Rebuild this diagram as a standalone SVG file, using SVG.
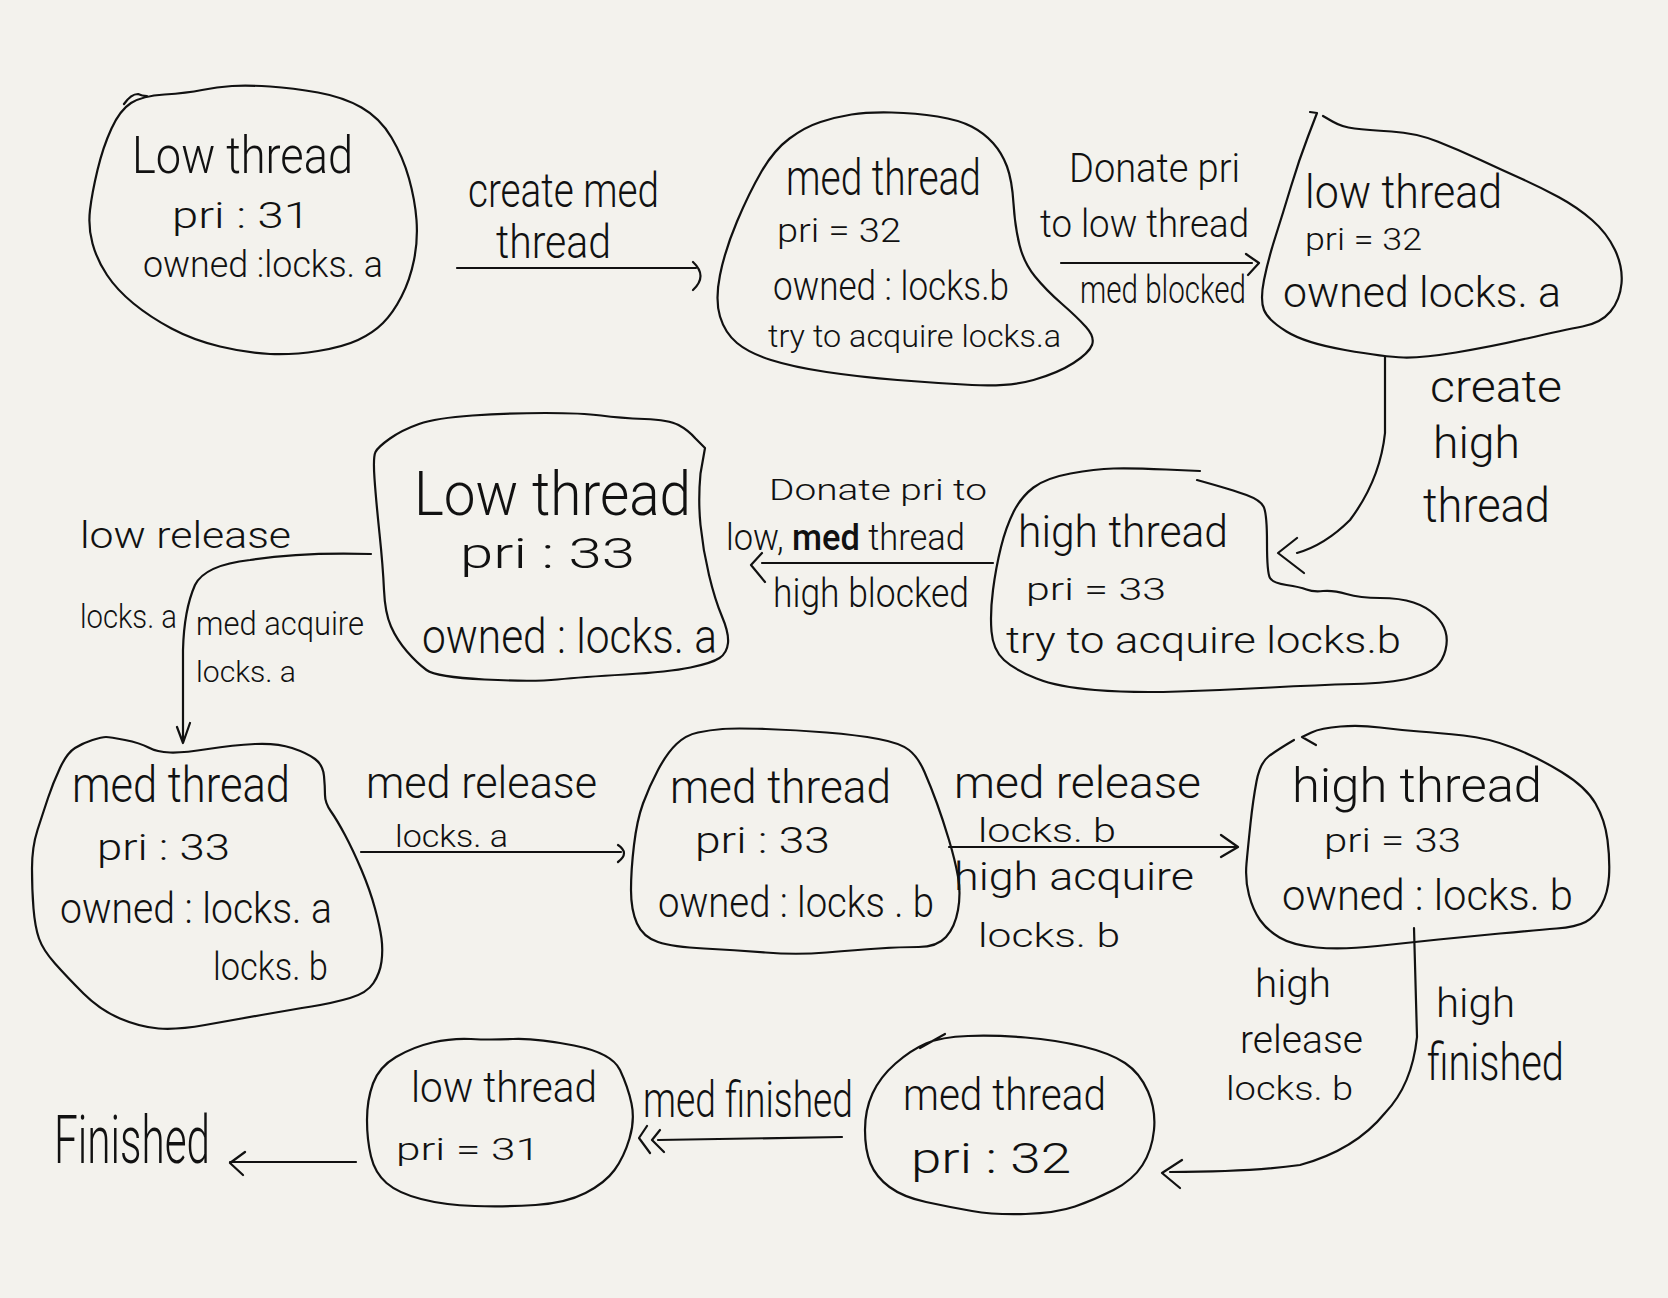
<svg xmlns="http://www.w3.org/2000/svg" width="1668" height="1298" viewBox="0 0 1668 1298">
<style>
.bg{fill:#f3f2ed}
.blob{fill:none;stroke:#111;stroke-width:2.2;stroke-linejoin:round;stroke-linecap:round}
.edge{fill:none;stroke:#111;stroke-width:2.2;stroke-linejoin:round;stroke-linecap:round}
text{font-family:Roboto,"Liberation Sans",sans-serif;font-weight:300;fill:#111}
</style>
<rect class="bg" x="0" y="0" width="1668" height="1298"/>

<g id="connectors">
  <path class="edge" d="M457,268 L696,268 M693,262 Q708,276 693,290"/>
  <path class="edge" d="M1061,263 L1252,263 M1246,254 L1259,263 L1248,275"/>
  <path class="edge" d="M1385,357 L1385,433 Q1380,480 1350,520 Q1325,545 1297,553 M1297,538 L1278,553 L1304,573"/>
  <path class="edge" d="M993,563 L762,563 M762,553 L751,565 L765,582"/>
  <path class="edge" d="M371,554 Q300,552 250,560 Q205,565 195,585 Q184,610 183,650 L183,743 M177,727 L183,743 L190,723"/>
  <path class="edge" d="M361,852 L621,852 M618,845 Q630,853 618,862"/>
  <path class="edge" d="M949,847 L1238,847 M1221,835 L1238,847 L1221,857"/>
  <path class="edge" d="M1414,928 L1417,1037 Q1412,1085 1385,1113 Q1355,1150 1300,1165 Q1250,1172 1170,1172 M1182,1160 L1162,1173 L1180,1188"/>
  <path class="edge" d="M842,1137 L658,1140 M647,1126 L639,1138 L650,1153 M660,1130 L652,1140 L664,1152"/>
  <path class="edge" d="M356,1162 L230,1162 M245,1152 L230,1163 L243,1175"/>
  <text x="468" y="207" font-size="48" textLength="191" lengthAdjust="spacingAndGlyphs">create med</text>
  <text x="496" y="258" font-size="46" textLength="115" lengthAdjust="spacingAndGlyphs">thread</text>
  <text x="1069" y="182" font-size="40" textLength="171" lengthAdjust="spacingAndGlyphs">Donate pri</text>
  <text x="1040" y="237" font-size="38" textLength="209" lengthAdjust="spacingAndGlyphs">to low thread</text>
  <text x="1080" y="303" font-size="38" textLength="166" lengthAdjust="spacingAndGlyphs">med blocked</text>
  <text x="1430" y="402" font-size="44" textLength="132" lengthAdjust="spacingAndGlyphs">create</text>
  <text x="1433" y="458" font-size="44" textLength="87" lengthAdjust="spacingAndGlyphs">high</text>
  <text x="1423" y="522" font-size="48" textLength="127" lengthAdjust="spacingAndGlyphs">thread</text>
  <text x="769" y="500" font-size="30" textLength="218" lengthAdjust="spacingAndGlyphs">Donate pri to</text>
  <text x="726" y="550" font-size="36" textLength="239" lengthAdjust="spacingAndGlyphs">low, <tspan font-weight="500">med</tspan> thread</text>
  <text x="773" y="607" font-size="40" textLength="196" lengthAdjust="spacingAndGlyphs">high blocked</text>
  <text x="80" y="548" font-size="36" textLength="211" lengthAdjust="spacingAndGlyphs">low release</text>
  <text x="80" y="628" font-size="34" textLength="97" lengthAdjust="spacingAndGlyphs">locks. a</text>
  <text x="196" y="635" font-size="34" textLength="168" lengthAdjust="spacingAndGlyphs">med acquire</text>
  <text x="196" y="682" font-size="30" textLength="100" lengthAdjust="spacingAndGlyphs">locks. a</text>
  <text x="366" y="798" font-size="44" textLength="231" lengthAdjust="spacingAndGlyphs">med release</text>
  <text x="395" y="847" font-size="32" textLength="113" lengthAdjust="spacingAndGlyphs">locks. a</text>
  <text x="954" y="798" font-size="44" textLength="247" lengthAdjust="spacingAndGlyphs">med release</text>
  <text x="978" y="842" font-size="34" textLength="138" lengthAdjust="spacingAndGlyphs">locks. b</text>
  <text x="954" y="890" font-size="38" textLength="240" lengthAdjust="spacingAndGlyphs">high acquire</text>
  <text x="978" y="947" font-size="34" textLength="142" lengthAdjust="spacingAndGlyphs">locks. b</text>
  <text x="1255" y="997" font-size="38" textLength="76" lengthAdjust="spacingAndGlyphs">high</text>
  <text x="1240" y="1053" font-size="38" textLength="123" lengthAdjust="spacingAndGlyphs">release</text>
  <text x="1226" y="1100" font-size="34" textLength="127" lengthAdjust="spacingAndGlyphs">locks. b</text>
  <text x="1436" y="1017" font-size="40" textLength="79" lengthAdjust="spacingAndGlyphs">high</text>
  <text x="1427" y="1080" font-size="52" textLength="137" lengthAdjust="spacingAndGlyphs">finished</text>
  <text x="643" y="1117" font-size="50" textLength="210" lengthAdjust="spacingAndGlyphs">med finished</text>
  <text x="54" y="1163" font-size="66" textLength="156" lengthAdjust="spacingAndGlyphs">Finished</text>
</g>

<g id="node1">
  <path class="blob" d="M131,103 Q142,96 164.5,94.5 Q187,93 202,90 Q217,87 232,86 Q247,85 270,86.5 Q293,88 318,92.5 Q343,97 361.5,107.5 Q380,118 391.5,137.5 Q403,157 409,178.5 Q415,200 416.5,220 Q418,240 414,260 Q410,280 401.5,296.5 Q393,313 383,323 Q373,333 358,340 Q343,347 318,351 Q293,355 270,354 Q247,353 220,346.5 Q193,340 171.5,328.5 Q150,317 133.5,303.5 Q117,290 107,275 Q97,260 92.5,243.5 Q88,227 90,210 Q92,193 97.5,170 Q103,147 111.5,128.5 Q120,110 131,103 Z M124,104 Q131,94 138,94 Q142,96 147,96"/>
  <text x="132" y="173" font-size="52" textLength="221" lengthAdjust="spacingAndGlyphs">Low thread</text>
  <text x="172" y="228" font-size="36" textLength="138" lengthAdjust="spacingAndGlyphs">pri : 31</text>
  <text x="143" y="277" font-size="36" textLength="240" lengthAdjust="spacingAndGlyphs">owned :locks. a</text>
</g>

<g id="node2">
  <path class="blob" d="M851.5,114.5 Q867,112 891.5,112.5 Q916,113 937.5,116.5 Q959,120 971.5,126.5 Q984,133 993,143 Q1002,153 1007,166.5 Q1012,180 1013.5,203.5 Q1015,227 1019.5,245 Q1024,263 1035,276.5 Q1046,290 1061.5,303.5 Q1077,317 1086,327 Q1095,337 1092,345 Q1089,353 1073.5,363 Q1058,373 1033.5,380 Q1009,387 972,385 Q935,383 897.5,380 Q860,377 826.5,372 Q793,367 771,360 Q749,353 737,343 Q725,333 720,316.5 Q715,300 720,275 Q725,250 737,221.5 Q749,193 761.5,171.5 Q774,150 789.5,138.5 Q805,127 820.5,122 Q836,117 851.5,114.5 Z"/>
  <text x="786" y="195" font-size="50" textLength="195" lengthAdjust="spacingAndGlyphs">med thread</text>
  <text x="777" y="242" font-size="34" textLength="124" lengthAdjust="spacingAndGlyphs">pri = 32</text>
  <text x="773" y="300" font-size="40" textLength="236" lengthAdjust="spacingAndGlyphs">owned : locks.b</text>
  <text x="768" y="347" font-size="32" textLength="293" lengthAdjust="spacingAndGlyphs">try to acquire locks.a</text>
</g>

<g id="node3">
  <path class="blob" d="M1310,112 L1317,113 L1308,136.5 Q1299,160 1291,186.5 Q1283,213 1275.5,236.5 Q1268,260 1264,280 Q1260,300 1264,310 Q1268,320 1286.5,331.5 Q1305,343 1345,350 Q1385,357 1403.5,357.5 Q1422,358 1456,352.5 Q1490,347 1527,338.5 Q1564,330 1582.5,326.5 Q1601,323 1610.5,311.5 Q1620,300 1621.5,283.5 Q1623,267 1615,250 Q1607,233 1592,220 Q1577,207 1558.5,197 Q1540,187 1521,178.5 Q1502,170 1480.5,160 Q1459,150 1437.5,141.5 Q1416,133 1391.5,131.5 Q1367,130 1354.5,128.5 Q1342,127 1332.5,121.5 L1323,116"/>
  <text x="1305" y="208" font-size="46" textLength="197" lengthAdjust="spacingAndGlyphs">low thread</text>
  <text x="1305" y="250" font-size="32" textLength="117" lengthAdjust="spacingAndGlyphs">pri = 32</text>
  <text x="1283" y="307" font-size="42" textLength="278" lengthAdjust="spacingAndGlyphs">owned locks. a</text>
</g>

<g id="node4">
  <path class="blob" d="M1200,471 L1166,469.5 Q1132,468 1113.5,468.5 Q1095,469 1070.5,473.5 Q1046,478 1033.5,487.5 Q1021,497 1013.5,512 Q1006,527 1001,547 Q996,567 993,590 Q990,613 991.5,631.5 Q993,650 1004,660 Q1015,670 1036.5,678.5 Q1058,687 1095,690 Q1132,693 1178.5,691.5 Q1225,690 1271,687.5 Q1317,685 1354,684 Q1391,683 1410.5,678 Q1430,673 1436.5,666.5 Q1443,660 1445.5,650 Q1448,640 1445.5,631.5 Q1443,623 1435,615 Q1427,607 1413.5,602.5 Q1400,598 1380,598 Q1360,598 1346.5,594 Q1333,590 1323,591 Q1313,592 1306.5,589.5 Q1300,587 1286.5,585 Q1273,583 1270,578 Q1267,573 1267,543 Q1267,513 1263.5,506.5 Q1260,500 1246.5,495 Q1233,490 1197,480"/>
  <text x="1018" y="547" font-size="44" textLength="210" lengthAdjust="spacingAndGlyphs">high thread</text>
  <text x="1026" y="600" font-size="32" textLength="140" lengthAdjust="spacingAndGlyphs">pri = 33</text>
  <text x="1006" y="653" font-size="36" textLength="395" lengthAdjust="spacingAndGlyphs">try to acquire locks.b</text>
</g>

<g id="node5">
  <path class="blob" d="M375.5,452 Q378,447 390,438.5 Q402,430 419,424 Q436,418 472.5,415.5 Q509,413 545.5,413 Q582,413 601,415.5 Q620,418 644.5,419 Q669,420 678.5,425 Q688,430 695.5,438.5 L705,448 L700.5,473.5 Q698,500 700.5,525 Q703,550 709,575 Q715,600 722,616.5 Q729,633 728,643 Q727,653 719.5,658 Q712,663 690.5,667.5 Q669,672 625.5,674.5 Q582,677 557.5,679.5 Q533,682 484.5,679.5 Q436,677 426.5,670 Q417,663 407,651.5 Q397,640 391,626.5 Q385,613 384,590 Q383,567 379.5,533.5 Q376,500 374.5,478.5 Q373,457 375.5,452 Z"/>
  <text x="414" y="515" font-size="62" textLength="277" lengthAdjust="spacingAndGlyphs">Low thread</text>
  <text x="460" y="568" font-size="42" textLength="175" lengthAdjust="spacingAndGlyphs">pri : 33</text>
  <text x="422" y="653" font-size="48" textLength="295" lengthAdjust="spacingAndGlyphs">owned : locks. a</text>
</g>

<g id="node6">
  <path class="blob" d="M92.5,740 Q102,737 106,737 Q110,737 125,740 Q140,743 148.5,747.5 Q157,752 170,752.5 Q183,753 208,749 Q233,745 255,744 Q277,743 292,748 Q307,753 315,759 Q323,765 324,776 Q325,787 325,795 Q325,803 331,811.5 Q337,820 345,835 Q353,850 361.5,870 Q370,890 375,908.5 Q380,927 381.5,938.5 Q383,950 381.5,961.5 Q380,973 373.5,983 Q367,993 350,998 Q333,1003 311.5,1006.5 Q290,1010 261.5,1015 Q233,1020 205,1025 Q177,1030 158.5,1028.5 Q140,1027 120,1018.5 Q100,1010 83.5,993.5 Q67,977 55,963.5 Q43,950 39,938.5 Q35,927 33.5,908.5 Q32,890 32,868.5 Q32,847 37.5,830 Q43,813 48,798 Q53,783 60,768 Q67,753 75,748 Q83,743 92.5,740 Z"/>
  <text x="72" y="802" font-size="50" textLength="218" lengthAdjust="spacingAndGlyphs">med thread</text>
  <text x="97" y="860" font-size="36" textLength="133" lengthAdjust="spacingAndGlyphs">pri : 33</text>
  <text x="60" y="923" font-size="42" textLength="272" lengthAdjust="spacingAndGlyphs">owned : locks. a</text>
  <text x="213" y="980" font-size="38" textLength="115" lengthAdjust="spacingAndGlyphs">locks. b</text>
</g>

<g id="node7">
  <path class="blob" d="M698,732.5 Q710,730 722.5,729 Q735,728 765.5,729 Q796,730 826.5,732.5 Q857,735 878.5,739 Q900,743 909,750 Q918,757 924.5,772 Q931,787 937,803.5 Q943,820 949,840 Q955,860 958,876.5 Q961,893 958,910 Q955,927 946,937 Q937,947 918.5,947 Q900,947 878.5,948.5 Q857,950 826.5,952.5 Q796,955 765.5,952.5 Q735,950 704,948.5 Q673,947 658,942 Q643,937 637,923.5 Q631,910 631,890 Q631,870 634,845 Q637,820 643,803.5 Q649,787 658,770 Q667,753 676.5,744 Q686,735 698,732.5 Z"/>
  <text x="670" y="803" font-size="46" textLength="221" lengthAdjust="spacingAndGlyphs">med thread</text>
  <text x="695" y="853" font-size="36" textLength="135" lengthAdjust="spacingAndGlyphs">pri : 33</text>
  <text x="658" y="917" font-size="42" textLength="276" lengthAdjust="spacingAndGlyphs">owned : locks . b</text>
</g>

<g id="node8">
  <path class="blob" d="M1316,745 L1302,737 L1311.5,732.5 Q1321,728 1340.5,726.5 Q1360,725 1380,727.5 Q1400,730 1419.5,731.5 Q1439,733 1463.5,735.5 Q1488,738 1512.5,747.5 Q1537,757 1561.5,772 Q1586,787 1595.5,803.5 Q1605,820 1607.5,840 Q1610,860 1609,876.5 Q1608,893 1601.5,905 Q1595,917 1585.5,922 Q1576,927 1556.5,928.5 Q1537,930 1500,933.5 Q1463,937 1438.5,939.5 Q1414,942 1377.5,946 Q1341,950 1316.5,947.5 Q1292,945 1279.5,937.5 Q1267,930 1260,920 Q1253,910 1249,895 Q1245,880 1246.5,863.5 Q1248,847 1250.5,823.5 Q1253,800 1256.5,781.5 Q1260,763 1268.5,756.5 Q1277,750 1294,740"/>
  <text x="1292" y="802" font-size="48" textLength="250" lengthAdjust="spacingAndGlyphs">high thread</text>
  <text x="1324" y="852" font-size="34" textLength="137" lengthAdjust="spacingAndGlyphs">pri = 33</text>
  <text x="1282" y="910" font-size="42" textLength="291" lengthAdjust="spacingAndGlyphs">owned : locks. b</text>
</g>

<g id="node9">
  <path class="blob" d="M926,1043.5 Q941,1037 968,1036 Q995,1035 1025.5,1037.5 Q1056,1040 1083,1046.5 Q1110,1053 1125,1063 Q1140,1073 1148,1091.5 Q1156,1110 1154,1130 Q1152,1150 1142.5,1165 Q1133,1180 1113.5,1190 Q1094,1200 1075,1206.5 Q1056,1213 1025.5,1214 Q995,1215 972,1211 Q949,1207 926,1202 Q903,1197 889.5,1187 Q876,1177 870.5,1163.5 Q865,1150 865,1130 Q865,1110 872.5,1093.5 Q880,1077 895.5,1063.5 Q911,1050 926,1043.5 Z M920,1048 L945,1034"/>
  <text x="903" y="1110" font-size="44" textLength="203" lengthAdjust="spacingAndGlyphs">med thread</text>
  <text x="911" y="1173" font-size="42" textLength="160" lengthAdjust="spacingAndGlyphs">pri : 32</text>
</g>

<g id="node10">
  <path class="blob" d="M432.5,1042.5 Q452,1038 471,1039 Q490,1040 513,1039 Q536,1038 574,1045.5 Q612,1053 620,1070 Q628,1087 631.5,1103.5 Q635,1120 629.5,1138.5 Q624,1157 614.5,1170 Q605,1183 585.5,1193 Q566,1203 535.5,1205 Q505,1207 474.5,1206 Q444,1205 421,1199 Q398,1193 386.5,1183 Q375,1173 371,1156.5 Q367,1140 367,1120 Q367,1100 373,1083.5 Q379,1067 396,1057 Q413,1047 432.5,1042.5 Z"/>
  <text x="411" y="1102" font-size="42" textLength="186" lengthAdjust="spacingAndGlyphs">low thread</text>
  <text x="396" y="1160" font-size="32" textLength="144" lengthAdjust="spacingAndGlyphs">pri = 31</text>
</g>
</svg>
